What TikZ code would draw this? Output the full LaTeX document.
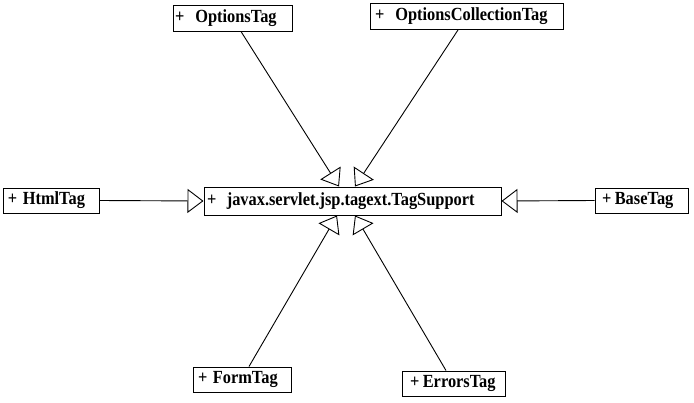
\documentclass[tikz,border=0pt]{standalone}
\usepackage{fontspec}
\setmainfont{Liberation Serif}
\newfontfamily\umlfont{Liberation Serif}[UprightFont=* Bold, FakeStretch=0.885]
\usetikzlibrary{arrows.meta}
\newcommand\plusname[3]{\hspace*{#1pt}+\hspace{#2pt}#3}
\begin{document}
\begin{tikzpicture}[x=1pt,y=-1pt,
  cls/.style={draw=black, line width=1pt, fill=white, inner xsep=0pt, inner ysep=0pt,
    minimum height=26pt, align=left, font=\umlfont\fontsize{18.5}{20}\selectfont, anchor=center},
  inh/.style={draw=black, line width=0.9pt, -{Triangle[open, length=16pt, width=24pt, line width=0.9pt]}}]
\fill[white] (0,0) rectangle (694,402);
\useasboundingbox (0,0) rectangle (694,402);
\node[cls, minimum height=28pt, text width=297pt] (ts) at (352.5,201) {\plusname{3}{10.5}{javax.servlet.jsp.tagext.TagSupport}};
\node[cls, text width=119pt] (opt) at (232.5,18) {\plusname{2}{11}{OptionsTag}};
\node[cls, text width=193pt] (coll) at (466.5,16.5) {\plusname{5}{11}{OptionsCollectionTag}};
\node[cls, minimum height=25pt, text width=96pt] (html) at (51,200.5) {\plusname{5}{5.5}{HtmlTag}};
\node[cls, minimum height=25pt, text width=93pt] (base) at (641.5,200.5) {\plusname{7}{3.5}{BaseTag}};
\node[cls, minimum height=25pt, text width=98pt] (form) at (242,379.5) {\plusname{5}{5.5}{FormTag}};
\node[cls, minimum height=25pt, text width=103pt] (err) at (453.5,383.5) {\plusname{8}{3.5}{ErrorsTag}};
\draw[inh] ([xshift=8.5pt]opt.south) -- ([xshift=-13.5pt]ts.north);
\draw[inh] ([xshift=-8.5pt]coll.south) -- ([xshift=2.5pt]ts.north);
\draw[inh] ([xshift=7pt]form.north) -- ([xshift=-15.5pt]ts.south);
\draw[inh] ([xshift=-7.5pt]err.north) -- ([xshift=2.5pt]ts.south);
\draw[inh] (html.east) -- (ts.west);
\draw[inh] (base.west) -- (ts.east);
\end{tikzpicture}
\end{document}
